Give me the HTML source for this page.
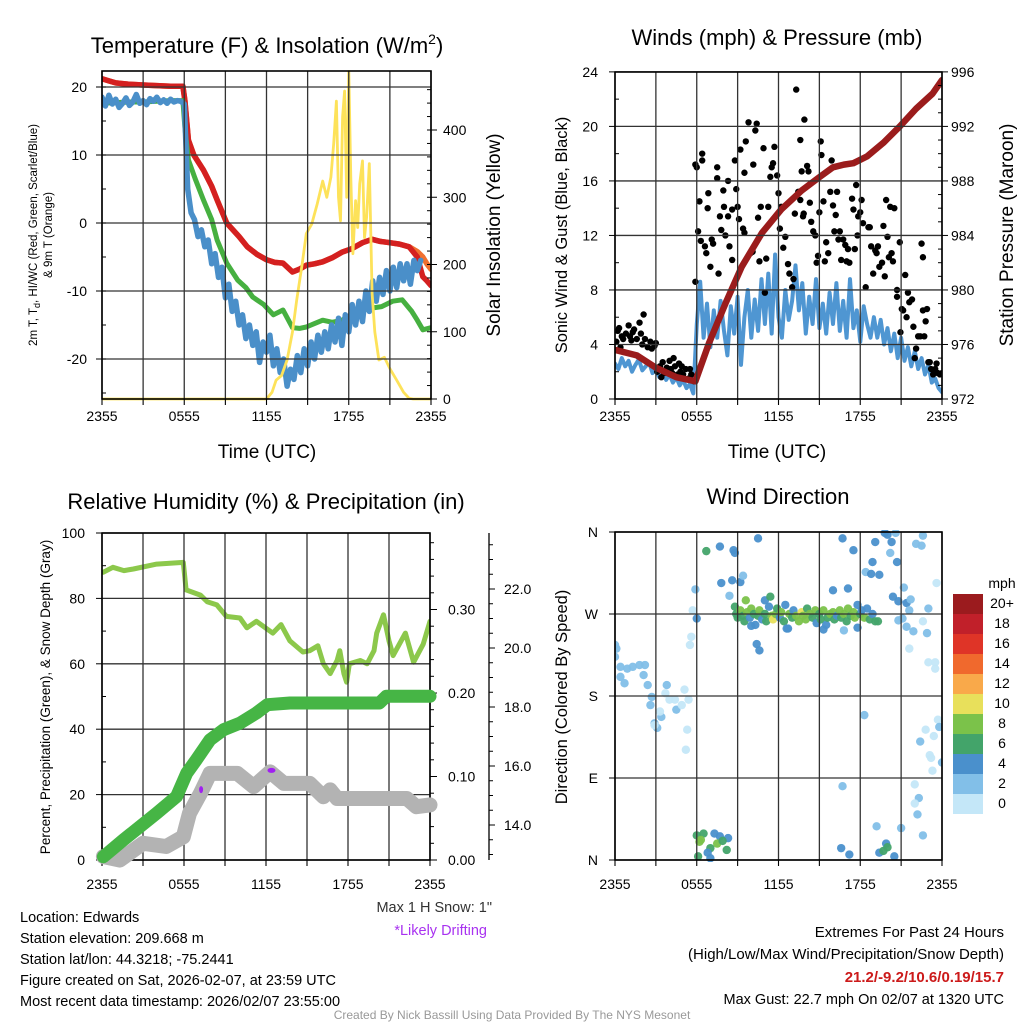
<!DOCTYPE html>
<html><head><meta charset="utf-8"><style>
html,body{margin:0;padding:0;background:#fff;}
svg{display:block;font-family:"Liberation Sans",Arial,sans-serif;}
</style></head><body>
<svg id="c" width="1024" height="1024" viewBox="0 0 1024 1024" xmlns="http://www.w3.org/2000/svg"></svg>
<script>
// ---------- Panel 1 data ----------
const tempRedT=[0,0.5,1,1.5,2,3,4,5,5.9,6.05,6.3,6.7,7.4,8.0,8.4,9.1,10,10.6,11.3,12,12.6,13.2,13.9,14.4,14.9,15.5,16.1,16.8,17.5,18.2,19,19.7,20.3,21,21.7,22.4,23,23.4,23.7,24];
const tempRedV=[21.2,20.9,20.6,20.5,20.4,20.3,20.2,20.1,20.1,18,12.2,10,7.8,5.4,3.4,0,-2,-3.5,-4.6,-5.4,-5.8,-5.9,-7.2,-6.8,-6.2,-6.0,-5.7,-5.1,-4.3,-3.8,-2.9,-2.4,-2.7,-2.9,-3.1,-3.5,-5,-7.9,-8.5,-9.2];
const tempOrgV=[21.2,20.9,20.6,20.5,20.4,20.3,20.2,20.1,20.1,18,12.2,10,7.8,5.4,3.4,0,-2,-3.5,-4.6,-5.4,-5.8,-5.9,-7.2,-6.8,-6.2,-6.0,-5.7,-5.1,-4.3,-3.8,-2.9,-2.4,-2.7,-2.9,-3.1,-3.5,-4.2,-5.0,-6.0,-6.8];
const dewT=[0,1,2,3,4,5,5.9,6.05,6.3,6.8,7.4,8,8.4,9.1,9.9,10.5,11,11.8,12.5,13.2,13.9,14.4,14.9,15.5,16.1,16.8,17.5,18.2,19,19.7,20.4,21.2,21.9,22.6,23,23.4,24];
const dewV=[17.6,17.7,17.8,17.8,17.9,18,18,14,9.3,6.5,3.4,0.5,-2.5,-5.9,-8.4,-9.5,-10.9,-12,-13.5,-12.8,-15.4,-15.5,-15.3,-14.8,-14.3,-14.6,-14.3,-13.5,-12.8,-12.5,-12.3,-11.5,-11.3,-13,-14.3,-15.7,-15.4];
const wchillV=[18.5,17.2,18.8,17.5,18.2,17.0,17.6,18.4,17.3,17.8,18.9,17.6,18.0,17.4,18.3,17.9,18.5,17.7,18.1,17.6,18.2,17.8,18.0,17.9,17.5,5,1.5,0.5,-2,-1,-3.5,-2.5,-6,-4.5,-8,-6.5,-11,-9,-13,-11.5,-15,-13.5,-17,-15,-18,-16,-20.5,-17.5,-19,-16.5,-21,-18.5,-22,-20,-24,-21.5,-23,-19.5,-22,-18.5,-21,-17.5,-20,-16.5,-19,-16,-18.5,-15,-17.5,-14,-18,-13.5,-16,-12,-15,-11.5,-14.5,-10,-13,-8.5,-11.5,-8,-10.5,-7,-10,-6.5,-9.5,-6,-8.5,-6,-9,-5.5,-7,-5.5];
const solarT=[0,12,12.4,12.7,13.1,13.5,13.9,14.2,14.6,14.9,15.3,15.7,16.1,16.4,16.7,16.9,17.1,17.25,17.4,17.55,17.7,17.85,18.0,18.15,18.3,18.5,18.65,18.8,19.0,19.15,19.3,19.5,19.7,19.9,20.2,20.6,21,21.5,22,22.4,22.7,24];
const solarV=[0,0,10,28,35,58,100,147,200,246,260,290,324,300,330,380,443,300,265,420,458,300,487,330,216,295,255,320,354,240,270,350,157,100,58,62,45,28,10,1,0,0];
const timeLabels=["2355","0555","1155","1755","2355"];
const p1LeftTicks=[20,10,0,-10,-20];
const p1RightTicks=[0,100,200,300,400];
// ---------- Panel 2 data ----------
const windV=[2.6,2.2,3.0,2.4,2.8,2.0,2.5,2.9,2.1,2.4,2.7,1.9,2.2,1.6,2.0,1.4,1.8,1.2,1.6,1.0,1.4,0.8,1.1,0.4,5.5,8.6,4.5,7,3.8,6.5,4.5,7.2,5,3.2,6.8,4.8,7.5,2.5,6,8,4.5,7.3,5,8.8,5.5,9.2,4.8,10.6,6,4.5,8,5.8,7.2,9.8,6.5,8.5,4.8,7.5,5.5,8.8,5.2,7,4.8,7.8,5.5,8.5,5,7.2,4.5,8.8,5.2,6.5,4.2,6.8,5.5,4.5,6,4.5,5.8,4,5.2,3.5,4.8,3,4.5,2.8,3.8,2.4,3.5,2.2,3.0,1.8,2.5,1.2,1.5,0.8,0.5];
const gustT=[
0.1,0.2,0.3,0.4,0.5,0.6,0.8,1.0,1.1,1.2,
1.3,1.4,1.6,1.8,1.9,2.0,2.1,2.2,2.4,2.6,
2.7,2.9,3.0,3.1,3.3,3.4,3.5,3.6,3.8,4.0,
4.1,4.2,4.3,4.4,4.6,4.7,4.8,4.9,5.0,5.2,
5.4,5.5,5.6,5.8,
5.9,5.9,6.0,6.2,6.1,6.4,6.4,6.3,6.6,6.7,
7.0,6.85,6.8,7.1,7.2,7.5,7.5,7.6,7.7,7.8,
7.95,8.0,8.1,8.3,8.3,8.4,8.6,8.6,8.8,8.9,
9.0,9.1,9.2,9.4,9.5,9.5,9.6,9.8,9.95,10.1,
10.15,10.3,10.4,10.5,10.6,10.7,10.9,11.0,11.1,11.25,
11.4,11.5,11.6,11.7,11.9,12.0,12.1,12.2,12.35,12.5,
12.7,12.8,13.0,13.1,13.2,13.3,13.45,13.6,13.6,13.7,
13.8,13.85,13.9,14.1,14.2,14.3,14.4,14.55,14.7,14.8,
14.9,15.0,15.1,15.15,15.3,15.4,15.5,15.65,15.8,15.9,
16.0,16.1,16.2,16.3,16.4,16.5,16.6,16.75,16.9,17.0,
17.1,17.2,17.4,17.5,17.6,17.7,17.8,17.85,18.0,18.1,
18.2,18.4,18.6,18.7,18.8,18.95,19.1,19.2,19.3,19.4,
19.6,19.7,19.8,19.9,20.0,20.1,20.2,20.3,20.4,20.5,
20.7,20.7,20.9,20.95,21.05,21.15,21.3,21.4,21.5,21.6,
21.8,21.9,22.0,22.1,22.25,22.4,22.5,22.6,22.6,22.7,
22.8,22.9,23.0,23.1,23.2,23.35,23.5,23.6,23.7,23.85,
24.0];
const gustV=[
4.2,5.0,5.2,3.8,4.6,4.4,4.8,5.4,4.6,4.3,
4.9,5.1,4.4,5.6,4.8,4.0,6.2,4.4,3.8,4.2,
3.7,3.9,4.1,2.0,2.4,1.6,2.7,1.9,2.3,2.8,
2.2,1.9,3.0,2.4,1.8,2.6,2.0,2.4,1.8,2.2,
1.5,2.2,1.8,1.3,
8.6,17.2,17.0,14.5,12.3,17.5,18.0,11.6,11.2,10.7,
9.7,15.1,14.0,11.7,11.4,17.0,16.2,9.2,13.4,12.4,
15.3,14.1,12.0,16.0,13.4,11.2,10.2,13.9,17.5,15.4,
14.1,13.2,18.3,12.5,12.2,16.6,18.9,20.3,10.7,10.8,
17.2,19.7,20.2,13.3,10.1,14.1,18.4,7.8,10.3,14.1,
16.3,17.0,17.3,18.5,16.4,15.1,12.5,14.1,11.1,11.9,
9.9,9.2,8.2,8.8,13.6,22.7,15.2,14.6,19.0,16.7,
13.4,13.6,20.5,17.1,16.7,14.4,13.0,12.3,12.0,10.0,
10.5,13.7,18.9,17.9,14.5,10.1,11.5,10.7,15.2,17.5,
14.2,12.3,13.5,15.2,11.7,12.3,10.2,11.7,11.3,10.1,
11.0,10.0,14.7,13.9,11.0,15.7,12.0,13.4,13.7,14.6,
12.9,8.2,12.6,12.6,11.2,9.2,10.9,10.7,11.2,9.7,
10.0,12.7,9.0,14.6,11.9,10.4,14.1,10.7,10.1,14.0,
8.0,7.5,11.5,4.9,6.6,6.5,9.1,6.0,7.8,7.1,
7.3,5.3,3.0,3.7,4.6,4.6,11.4,10.4,6.5,4.6,
5.7,6.6,2.7,2.7,2.2,1.8,2.2,2.6,1.9,1.8,
1.9];
const presT=[0,1.6,3,4.5,5.9,6.9,8.1,9.3,10.8,12.2,13.7,14.9,16,16.8,17.5,18.5,19.7,20.9,22.1,23.3,24];
const presV=[975.6,975.2,974.3,973.6,973.3,976.1,979,981.7,984.2,985.9,987.3,988.2,989,989.2,989.3,989.8,990.8,992,993.3,994.4,995.4];
const p2LeftTicks=[0,4,8,12,16,20,24];
const p2RightTicks=[972,976,980,984,988,992,996];
// ---------- Panel 3 data ----------
const rhT=[0.1,0.8,1.6,2.3,4,5.95,6.15,7.2,7.7,8.4,9.1,10.1,10.6,11.3,12.5,13.1,13.75,14.7,15.2,15.8,16.2,16.7,17.2,17.4,17.7,17.9,18.1,18.9,19.4,19.9,20.1,20.6,21,21.3,22.2,22.8,23.5,24];
const rhV=[88,89.5,88.5,89,90.5,91,82.6,81,79,78,74.5,74,71,73,69.4,72,67,63.6,64,65.5,60,57,61,64,57,54.4,60,61,60,64,69.4,75,67,62.5,69.4,60.5,66,73];
const precipT=[0.1,1.56,4,5.46,6.2,6.9,7.9,8.9,10.1,11.3,12.1,13.75,20.3,20.8,24];
const precipV=[0.004,0.024,0.056,0.076,0.104,0.12,0.144,0.156,0.164,0.176,0.186,0.188,0.188,0.196,0.196];
const snowT=[0.1,1.3,3,4.7,5.95,6.4,7.2,7.9,9.9,11.1,12.3,13.3,15.2,16.2,16.7,17.2,22.3,23.0,24];
const snowV=[12.93,12.81,13.38,13.27,13.6,14.4,15.07,15.75,15.75,15.3,15.8,15.41,15.41,14.96,15.19,14.9,14.9,14.62,14.68];
const driftT=[7.25,12.4];
const driftV=[15.2,15.85];
const p3LeftTicks=[0,20,40,60,80,100];
const p3PrecipTicks=[0,0.1,0.2,0.3];
const p3SnowTicks=[14,16,18,20,22];
// ---------- Panel 4 data ----------
const dirT=[0,0.1,0,0.4,0.9,1.3,1.8,2.2,0.4,0.7,2.1,2.4,2.7,2.6,2.9,3.1,3.4,3.8,4.0,4.4,4.5,3.7,4.9,5.1,5.4,5.3,5.2,3.3,2.9,5.5,5.6,5.7,5.9,6.0,
6.0,6.2,6.5,7.3,7.7,8.3,7.0,7.5,8.2,6.1,7.0,6.8,6.3,7.9,
6.7,7.7,8.7,8.8,7.8,8.6,9.2,9.4,8.4,10.5,10.4,10.6,9.6,11.0,11.4,
8.8,8.9,9.0,9.2,9.4,9.5,9.7,9.9,10.0,10.2,10.3,10.5,10.6,10.8,11.0,11.1,11.3,11.5,11.6,11.8,11.9,12.1,12.2,12.4,12.5,12.6,12.8,13.0,13.1,13.3,13.5,13.7,13.8,14.0,14.1,14.3,14.5,14.7,14.8,15.0,15.1,15.3,15.5,15.6,15.8,16.0,16.1,16.3,16.5,16.6,16.8,17.0,17.1,17.3,17.5,17.6,17.8,18.0,18.1,18.3,18.5,18.7,18.9,19.1,10.0,12.7,15.3,17.8,19.3,16.8,
16.7,17.5,17.1,16.0,19.1,18.9,18.4,18.8,19.4,19.8,20.0,20.6,20.3,20.2,20.7,22.1,22.5,22.6,21.2,20.4,20.8,21.4,21.7,21.6,23.0,23.6,20.8,21.1,21.4,21.9,22.6,22.9,21.6,23.0,23.5,23.5,18.3,23.7,23.8,22.8,23.4,22.4,23.1,23.2,24.0,23.3,16.7,22.0,22.3,22.0,22.2,19.2,21.0,22.6,16.6,17.2,19.4,19.7,19.9,20.0,20.5];
const dirD=[236,232,223,212,210,212,214,214,201,194,203,192,179,170,150,145,157,192,176,176,165,183,170,187,176,143,121,163,148,236,245,274,297,265,
27,20,29,29,26,24,13,18,11,4,2,8,22,21,
339,344,340,337,304,307,305,312,290,353,237,230,285,285,289,
278,270,266,274,268,262,272,266,276,270,258,268,274,264,270,262,278,268,264,270,276,266,272,262,280,254,270,266,274,268,262,272,268,264,276,270,266,274,260,270,264,274,258,266,270,272,264,268,274,266,270,262,276,268,272,266,280,270,274,266,276,264,270,262,257,254,253,255,262,252,
353,340,298,296,349,327,316,314,313,359,357,359,349,337,327,347,345,356,299,289,284,282,286,274,276,304,263,265,256,251,262,249,232,217,217,210,159,154,146,143,136,130,115,112,107,98,81,83,68,62,50,37,35,27,13,6,8,10,18,14,4];
const dirS=[3,3,3,3,3,3,3,3,3,3,3,3,3,3,3,3,3,3,1,1,3,1,1,1,1,1,1,1,1,1,1,1,3,5,
7,9,7,5,5,5,7,9,7,7,5,5,9,7,
7,5,5,5,5,5,5,3,3,5,5,5,9,5,7,
7,7,7,9,7,7,9,5,9,7,5,7,9,5,7,7,5,9,11,9,7,5,9,7,5,5,9,7,5,9,9,11,9,9,7,9,7,9,5,7,7,9,5,7,9,9,7,5,9,7,9,7,9,7,9,9,5,7,5,9,5,7,5,7,5,5,5,5,7,3,
5,5,5,5,5,5,3,5,5,5,5,3,5,3,5,3,3,3,3,5,5,5,3,3,3,1,3,3,3,3,1,3,1,1,1,1,3,1,3,1,1,3,1,1,3,1,3,1,3,1,3,3,3,3,5,5,5,7,5,7,5];
const p4Ticks=[0,90,180,270,360];
const p4TickLabels=["N","E","S","W","N"];
const cbLabels=["20+","18","16","14","12","10","8","6","4","2","0"];
const cbColors=["#9b1b1e","#c1202a","#df3427","#f0692d","#f9a94a","#e8e05b","#7bc24a","#43a46a","#4a90cc","#82bfe8","#c4e7f8"];

const NS="http://www.w3.org/2000/svg";
const svg=document.getElementById('c');
function el(tag,attrs,parent){const e=document.createElementNS(NS,tag);for(const k in attrs)e.setAttribute(k,attrs[k]);(parent||svg).appendChild(e);return e;}
function txt(s,x,y,size,anchor,parent,extra){const e=el('text',Object.assign({x:x,y:y,'font-size':size,'text-anchor':anchor||'start',fill:'#000'},extra||{}),parent);e.textContent=s;return e;}
function pathD(xs,ys){let d='';for(let i=0;i<xs.length;i++){if(ys[i]===null||ys[i]===undefined)continue;d+=(d?'L':'M')+xs[i].toFixed(1)+','+ys[i].toFixed(1);}return d;}

function panel(L,R,T,B,name){
  const g=el('g',{},svg);
  
  
  const clipId='clip-'+name;
  const cp=el('clipPath',{id:clipId},g);el('rect',{x:L,y:T-2,width:R-L,height:B-T+4},cp);
  const plot=el('g',{'clip-path':'url(#'+clipId+')'},g);
  return {g:g,plot:plot,L:L,R:R,T:T,B:B,x:t=>L+t*(R-L)/24};
}
function grid(P,hYs){
  const gg=el('g',{},P.g);
  
  
  for(let h=0;h<=24;h+=3){const x=P.x(h);el('line',{x1:x,y1:P.T,x2:x,y2:P.B,stroke:'#333','stroke-width':1.3},gg);}
  hYs.forEach(y=>el('line',{x1:P.L,y1:y,x2:P.R,y2:y,stroke:'#333','stroke-width':1.3},gg));
}
function frame(P){
  const f=el('rect',{x:P.L,y:P.T,width:P.R-P.L,height:P.B-P.T,fill:'none',stroke:'#000','stroke-width':1.6},P.g);
  
  
}
function xAxis(P,off){
  timeLabels.forEach((s,i)=>{const x=P.x(i*6);
    const t=txt(s,x,P.B+off,14,'middle',P.g);});
  for(let h=0;h<=24;h+=3){el('line',{x1:P.x(h),y1:P.B,x2:P.x(h),y2:P.B+6,stroke:'#000','stroke-width':1.1},P.g);}
}

// ===== Panel 1 =====
(function(){
  const P=panel(102,431,71,399,'temperature-panel');
  const yT=v=>223-v*6.8, yW=v=>399-v*0.6725;
  grid(P,p1LeftTicks.map(yT));
  let s=el('path',{d:pathD(tempRedT.map(P.x),tempOrgV.map(yT)),fill:'none',stroke:'#f07030','stroke-width':5.5,'stroke-linejoin':'round','stroke-linecap':'round'},P.plot);
  
  s=el('path',{d:pathD(tempRedT.map(P.x),tempRedV.map(yT)),fill:'none',stroke:'#d42020','stroke-width':5.5,'stroke-linejoin':'round','stroke-linecap':'round'},P.plot);
  
  s=el('path',{d:pathD(dewT.map(P.x),dewV.map(yT)),fill:'none',stroke:'#46b040','stroke-width':5,'stroke-linejoin':'round','stroke-linecap':'round'},P.plot);
  
  s=el('path',{d:pathD(wchillV.map((v,i)=>P.x(i/4)),wchillV.map(yT)),fill:'none',stroke:'#4a8fc9','stroke-width':5.5,'stroke-linejoin':'round','stroke-linecap':'round'},P.plot);
  
  s=el('path',{d:pathD(solarT.map(P.x),solarV.map(yW)),fill:'none',stroke:'#fde25a','stroke-width':2.8,'stroke-linejoin':'round'},P.plot);
  
  frame(P);xAxis(P,22);
  p1LeftTicks.forEach(v=>{const y=yT(v);el('line',{x1:P.L-6,y1:y,x2:P.L,y2:y,stroke:'#000'},P.g);const t=txt(String(v),P.L-15,y+5,14,'end',P.g);});
  for(let v=-25;v<=20;v+=5){el('line',{x1:P.L,y1:yT(v),x2:P.L+4,y2:yT(v),stroke:'#000'},P.g);}
  p1RightTicks.forEach(v=>{const y=yW(v);el('line',{x1:P.R,y1:y,x2:P.R+6,y2:y,stroke:'#000'},P.g);const t=txt(String(v),P.R+12,y+5,14,'start',P.g);});
  for(let v=20;v<=460;v+=20){el('line',{x1:P.R-4,y1:yW(v),x2:P.R,y2:yW(v),stroke:'#000'},P.g);}
  let t=el('text',{x:267,y:53,'font-size':22,'text-anchor':'middle'},P.g);
  t.innerHTML='Temperature (F) &amp; Insolation (W/m<tspan dy="-9" font-size="14">2</tspan><tspan dy="9">)</tspan>';
  
  t=txt('Time (UTC)',267,458,19,'middle',P.g);
  t=txt('Solar Insolation (Yellow)',0,0,19,'middle',P.g,{transform:'translate(500,235) rotate(-90)'});
  t=el('text',{'font-size':11.5,'text-anchor':'middle',transform:'translate(37,235) rotate(-90)'},P.g);
  t.innerHTML='2m T, T<tspan dy="3" font-size="9">d</tspan><tspan dy="-3">, HI/WC (Red, Green, Scarlet/Blue)</tspan>';
  
  t=txt('& 9m T (Orange)',0,0,11.5,'middle',P.g,{transform:'translate(52,235) rotate(-90)'});
})();

// ===== Panel 2 =====
(function(){
  const P=panel(615,942,72,399,'winds-panel');
  const yV=v=>399-v*13.63, yP=p=>399-(p-972)*13.63;
  grid(P,p2LeftTicks.map(yV));
  let s=el('path',{d:pathD(windV.map((v,i)=>P.x(i/4)),windV.map(yV)),fill:'none',stroke:'#4f96d2','stroke-width':4,'stroke-linejoin':'round','stroke-linecap':'round'},P.plot);
  
  const gg=el('g',{},P.plot);
  
  
  gustT.forEach((t,i)=>{const c=el('circle',{cx:P.x(t),cy:yV(gustV[i]),r:3.2,fill:'#000'},gg);
    
    });
  s=el('path',{d:pathD(presT.map(P.x),presV.map(yP)),fill:'none',stroke:'#9b1c1c','stroke-width':6.5,'stroke-linejoin':'round','stroke-linecap':'round'},P.plot);
  
  frame(P);xAxis(P,22);
  p2LeftTicks.forEach(v=>{const y=yV(v);el('line',{x1:P.L-6,y1:y,x2:P.L,y2:y,stroke:'#000'},P.g);const t=txt(String(v),P.L-17,y+5,14,'end',P.g);});
  for(let v=2;v<24;v+=4){el('line',{x1:P.L,y1:yV(v),x2:P.L+4,y2:yV(v),stroke:'#000'},P.g);}
  p2RightTicks.forEach(v=>{const y=yP(v);el('line',{x1:P.R,y1:y,x2:P.R+6,y2:y,stroke:'#000'},P.g);const t=txt(String(v),P.R+9,y+5,14,'start',P.g);});
  for(let v=973;v<996;v+=1){if((v-972)%4)el('line',{x1:P.R-4,y1:yP(v),x2:P.R,y2:yP(v),stroke:'#000'},P.g);}
  let t=txt('Winds (mph) & Pressure (mb)',777,45,22,'middle',P.g);
  t=txt('Time (UTC)',777,458,19,'middle',P.g);
  t=txt('Sonic Wind & Gust (Blue, Black)',0,0,16.5,'middle',P.g,{transform:'translate(567,235) rotate(-90)'});
  t=txt('Station Pressure (Maroon)',0,0,19,'middle',P.g,{transform:'translate(1013,235) rotate(-90)'});
})();

// ===== Panel 3 =====
(function(){
  const P=panel(102,430,533,860,'humidity-panel');
  const yR=v=>860-v*3.27, yPr=v=>860-v*835, yS=v=>825-(v-14)*29.5;
  grid(P,p3LeftTicks.map(yR));
  let s=el('path',{d:pathD(rhT.map(P.x),rhV.map(yR)),fill:'none',stroke:'#8cc84b','stroke-width':5,'stroke-linejoin':'round','stroke-linecap':'round'},P.plot);
  
  const sp=panel(90,440,533,875,'snow-clip');
  s=el('path',{d:pathD(snowT.map(P.x),snowV.map(yS)),fill:'none',stroke:'#b3b3b3','stroke-width':15,'stroke-linejoin':'round','stroke-linecap':'round'},sp.plot);
  
  s=el('path',{d:pathD(precipT.map(P.x),precipV.map(yPr)),fill:'none',stroke:'#46b545','stroke-width':13,'stroke-linejoin':'round','stroke-linecap':'round'},sp.plot);
  
  driftT.forEach((t,i)=>{const e=el('ellipse',{cx:P.x(t),cy:yS(driftV[i]),rx:i?4:2,ry:i?2.5:3.5,fill:'#a020f0'},sp.plot);
    
    });
  frame(P);xAxis(P,29);
  p3LeftTicks.forEach(v=>{const y=yR(v);el('line',{x1:P.L-6,y1:y,x2:P.L,y2:y,stroke:'#000'},P.g);const t=txt(String(v),P.L-17,y+5,14,'end',P.g);});
  for(let v=10;v<100;v+=20){el('line',{x1:P.L,y1:yR(v),x2:P.L+4,y2:yR(v),stroke:'#000'},P.g);}
  p3PrecipTicks.forEach(v=>{const y=yPr(v);el('line',{x1:P.R,y1:y,x2:P.R+7,y2:y,stroke:'#000'},P.g);const t=txt(v.toFixed(2),P.R+18,y+5,14,'start',P.g);});
  for(let v=0.02;v<0.39;v+=0.02){if(Math.round(v*100)%10)el('line',{x1:P.R,y1:yPr(v),x2:P.R+4,y2:yPr(v),stroke:'#000'},P.g);}
  const ax=489;
  el('line',{x1:ax,y1:533,x2:ax,y2:860,stroke:'#000','stroke-width':1.3},P.g);
  p3SnowTicks.forEach(v=>{const y=yS(v);el('line',{x1:ax,y1:y,x2:ax+6,y2:y,stroke:'#000'},P.g);const t=txt(v.toFixed(1),ax+15,y+5,14,'start',P.g);});
  for(let v=13;v<=23.6;v+=0.5){if(v%2)el('line',{x1:ax,y1:yS(v),x2:ax+4,y2:yS(v),stroke:'#000'},P.g);}
  let t=txt('Relative Humidity (%) & Precipitation (in)',266,509,22,'middle',P.g);
  t=txt('Percent, Precipitation (Green), & Snow Depth (Gray)',0,0,13.5,'middle',P.g,{transform:'translate(50,697) rotate(-90)'});
})();

// ===== Panel 4 =====
(function(){
  const P=panel(615,942,532,860,'wind-direction-panel');
  const yD=d=>860-d*328/360;
  grid(P,p4Ticks.map(yD));
  const gg=el('g',{},P.plot);
  
  
  dirT.forEach((t,i)=>{const bin=Math.min(10,Math.floor(dirS[i]/2));
    const c=el('circle',{cx:P.x(t),cy:yD(dirD[i]),r:4.2,fill:cbColors[10-bin],'fill-opacity':0.95},gg);
    
    });
  frame(P);xAxis(P,29);
  p4Ticks.forEach((v,i)=>{const y=yD(v);el('line',{x1:P.L-6,y1:y,x2:P.L,y2:y,stroke:'#000'},P.g);const t=txt(p4TickLabels[i],P.L-17,y+5,14,'end',P.g);});
  let t=txt('Wind Direction',778,504,22,'middle',P.g);
  t=txt('Direction (Colored By Speed)',0,0,16.5,'middle',P.g,{transform:'translate(567,697) rotate(-90)'});
  const cb=el('g',{},svg);
  
  
  cbColors.forEach((c,i)=>{el('rect',{x:953,y:594+i*20,width:30,height:20,fill:c},cb);
    const l=txt(cbLabels[i],1002,603+i*20+5,14,'middle',cb);});
  t=txt('mph',1002,588,14,'middle',cb);
})();

// ===== Footer text =====
(function(){
  const f=el('g',{},svg);
  
  
  let t=txt('Max 1 H Snow: 1"',492,912,14.5,'end',f,{fill:'#333'});
  t=txt('*Likely Drifting',487,935,14.5,'end',f,{fill:'#a832f0'});
  const L=['Location: Edwards','Station elevation: 209.668 m','Station lat/lon: 44.3218; -75.2441','Figure created on Sat, 2026-02-07, at 23:59 UTC','Most recent data timestamp: 2026/02/07 23:55:00'];
  L.forEach((s,i)=>{const e=txt(s,20,922+i*21,14.5,'start',f);});
  t=txt('Extremes For Past 24 Hours',1004,937,15,'end',f);
  t=txt('(High/Low/Max Wind/Precipitation/Snow Depth)',1004,959,15,'end',f);
  t=txt('21.2/-9.2/10.6/0.19/15.7',1004,982,15,'end',f,{fill:'#cc1a1a','font-weight':'bold'});
  t=txt('Max Gust: 22.7 mph On 02/07 at 1320 UTC',1004,1004,14.5,'end',f);
  t=txt('Created By Nick Bassill Using Data Provided By The NYS Mesonet',512,1019,12,'middle',f,{fill:'#999'});
})();
</script>
</body></html>
